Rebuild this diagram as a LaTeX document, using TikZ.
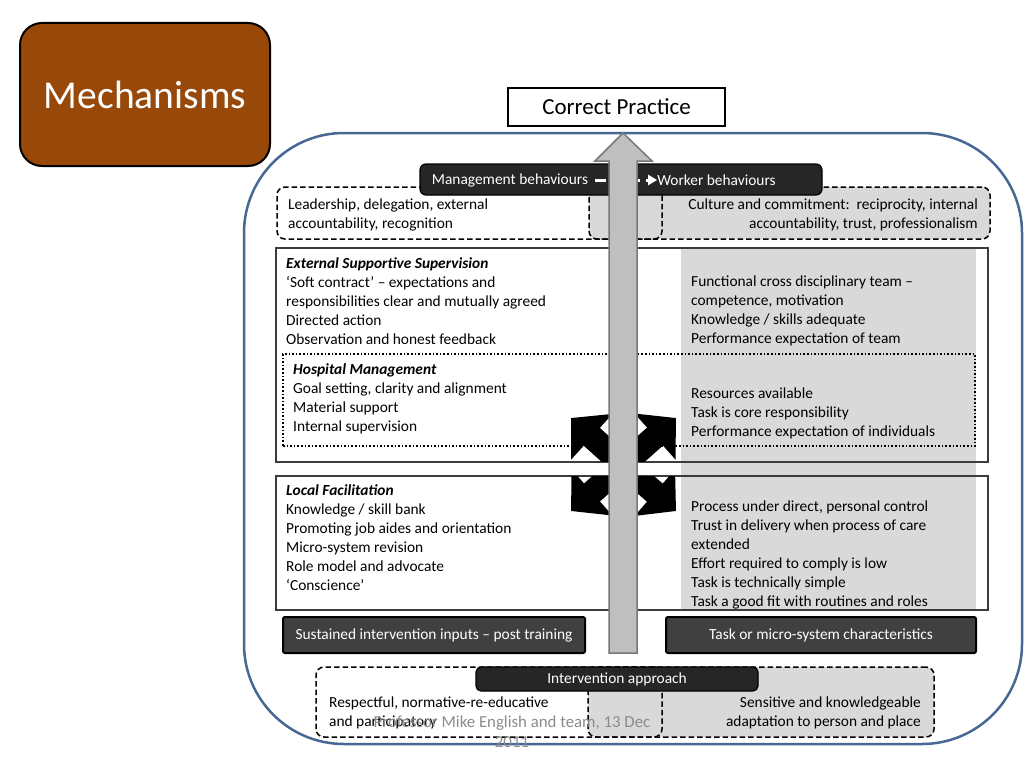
\documentclass[tikz,border=0pt]{standalone}
\usepackage{fontspec}
\setmainfont{Carlito}
\usetikzlibrary{arrows.meta}
\definecolor{mechbrown}{RGB}{152,72,8}
\definecolor{frameblue}{RGB}{72,104,148}
\definecolor{bandgrey}{RGB}{217,217,217}
\definecolor{bardark}{RGB}{38,38,38}
\definecolor{barmid}{RGB}{64,64,64}
\definecolor{arrowgrey}{RGB}{191,191,191}
\definecolor{arrowedge}{RGB}{120,120,120}
\definecolor{footgrey}{RGB}{140,140,140}
\definecolor{boxedge}{RGB}{60,60,60}
\newcommand{\bodyfnt}{\fontsize{15.4}{19}\selectfont}
\begin{document}
\begin{tikzpicture}[x=1pt,y=-1pt,
  body/.style={font=\bodyfnt, inner sep=0pt, align=left, text=black},
  plainbox/.style={draw=boxedge, line width=1.3pt, inner sep=0pt},
  dashbox/.style={draw=black, dash pattern=on 5.5pt off 3pt, line width=1.5pt, rounded corners=8pt, inner sep=0pt},
  dotbox/.style={draw=black, dash pattern=on 1.6pt off 2pt, line width=2pt, inner sep=0pt},
  darkbar/.style={fill=bardark, draw=black, line width=1.2pt, rounded corners=6pt, text=white, font=\bodyfnt, inner sep=0pt},
  midbar/.style={fill=barmid, draw=black, line width=2pt, rounded corners=2pt, text=white, font=\bodyfnt, inner sep=0pt},
  quadarrow/.style={black, line width=24pt, -{Triangle[length=28pt, width=60pt]}}
]
\useasboundingbox (0,0) rectangle (1024,768);
\fill[white] (0,0) rectangle (1024,768);

% outer frame
\node[draw=frameblue, line width=2.5pt, rounded corners=100pt, minimum width=778pt, minimum height=611pt, inner sep=0pt] (frame) at (633,438.5) {};

% title boxes
\node[fill=mechbrown, draw=black, line width=2pt, rounded corners=22pt, minimum width=250pt, minimum height=143pt, text=white, font=\fontsize{39.5}{44}\selectfont, inner sep=0pt] (mech) at (145,94.5) {Mechanisms};
\node[draw=black, fill=white, line width=1.8pt, minimum width=217pt, minimum height=38pt, font=\fontsize{23}{27}\selectfont, inner sep=0pt] (cp) at (616.5,107) {Correct Practice};

% top dashed boxes
\node[dashbox, fill=bandgrey, minimum width=401pt, minimum height=52pt] (cult) at (789.5,213) {};
\node[dashbox, minimum width=385pt, minimum height=52pt] (lead) at (469.5,213) {};
\node[body, anchor=north west] (leadtext) at (288,199) {Leadership, delegation, external\\accountability, recognition};
\node[body, anchor=north east, align=right] (culttext) at (978,199) {Culture and commitment:\ \ reciprocity, internal\\accountability, trust, professionalism};

% grey band
\fill[bandgrey] (681,248) rectangle (976,610);

% main boxes
\node[plainbox, minimum width=712pt, minimum height=214pt] (ext) at (632,355) {};
\node[plainbox, minimum width=712pt, minimum height=134pt] (local) at (632,543) {};
\node[dotbox, minimum width=692pt, minimum height=92pt] (hosp) at (629,400) {};

% four-way arrow
\coordinate (qc) at (623,465);
\coordinate (qnw) at (571,418);
\coordinate (qne) at (676,418);
\coordinate (qsw) at (571,511);
\coordinate (qse) at (676,511);
\begin{scope}
  \clip (540,400) rectangle (700,461.3);
  \draw[quadarrow] (qc) -- (qnw);
  \draw[quadarrow] (qc) -- (qne);
\end{scope}
\begin{scope}
  \clip (540,476.7) rectangle (700,530);
  \draw[quadarrow] (qc) -- (qsw);
  \draw[quadarrow] (qc) -- (qse);
\end{scope}

% texts in main boxes
\node[body, anchor=north west] (esstext) at (286,257) {\textbf{\textit{External Supportive Supervision}}\\‘Soft contract’ – expectations and\\responsibilities clear and mutually agreed\\Directed action\\Observation and honest feedback};
\node[body, anchor=north west] (teamtext) at (691,276) {Functional cross disciplinary team –\\competence, motivation\\Knowledge / skills adequate\\Performance expectation of team};
\node[body, anchor=north west] (hosptext) at (293,363) {\textbf{\textit{Hospital Management}}\\Goal setting, clarity and alignment\\Material support\\Internal supervision};
\node[body, anchor=north west] (restext) at (691,388) {Resources available\\Task is core responsibility\\Performance expectation of individuals};
\node[body, anchor=north west] (loctext) at (286,484) {\textbf{\textit{Local Facilitation}}\\Knowledge / skill bank\\Promoting job aides and orientation\\Micro-system revision\\Role model and advocate\\‘Conscience’};
\node[body, anchor=north west] (proctext) at (691,501) {Process under direct, personal control\\Trust in delivery when process of care\\extended\\Effort required to comply is low\\Task is technically simple\\Task a good fit with routines and roles};

% management bar
\node[darkbar, minimum width=402pt, minimum height=31pt] (mbar) at (621,179.5) {};
\node[font=\bodyfnt, text=white, inner sep=0pt] (mb) at (510,180) {Management behaviours};
\node[font=\bodyfnt, text=white, inner sep=0pt] (wb) at (716.5,180) {Worker behaviours};
\draw[white, line width=3pt, dash pattern=on 11pt off 6pt, -{Triangle[length=9pt, width=10pt]}, shorten <=7pt] (mb.east) -- (wb.west);

% big grey up arrow
\coordinate (gtip) at (623,133);
\draw[fill=arrowgrey, draw=arrowedge, line width=1.5pt] (609,653) -- (609,161) -- (595,161) -- (gtip) -- (652,161) -- (637,161) -- (637,653) -- cycle;

% bottom bars
\node[midbar, minimum width=302pt, minimum height=36pt] (sust) at (434,635) {Sustained intervention inputs – post training};
\node[midbar, minimum width=310pt, minimum height=36pt] (task) at (821,635) {Task or micro-system characteristics};

% bottom dashed boxes
\node[dashbox, fill=bandgrey, minimum width=346pt, minimum height=70pt] (sens) at (761,702) {};
\node[dashbox, minimum width=346pt, minimum height=70pt] (resp) at (489,702) {};
\node[darkbar, rounded corners=5pt, minimum width=282pt, minimum height=24pt] (interv) at (617,679) {Intervention approach};
\node[body, anchor=north west] (resptext) at (329,697) {Respectful, normative-re-educative\\and participatory};
\node[body, anchor=north east, align=right] (senstext) at (921,697) {Sensitive and knowledgeable\\adaptation to person and place};

% footer
\node[font=\fontsize{16.8}{20}\selectfont, text=footgrey, align=center, inner sep=0pt, anchor=north] (foot) at (512,715.5) {Professor Mike English and team, 13 Dec\\2011};
\end{tikzpicture}
\end{document}
